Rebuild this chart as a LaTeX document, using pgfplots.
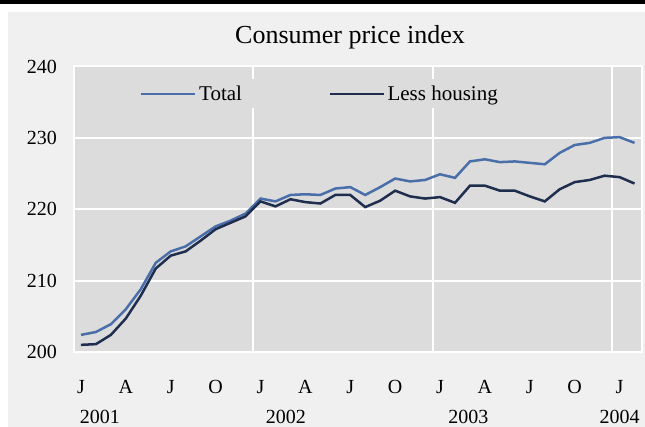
\documentclass[border=0pt]{standalone}
\usepackage{pgfplots}
\pgfplotsset{compat=1.18}
\usepackage{fontspec}
\setmainfont{Liberation Serif}
\definecolor{panelbg}{HTML}{F0F0F0}
\definecolor{plotbg}{HTML}{DCDCDC}
\definecolor{totalblue}{HTML}{4A6EA9}
\definecolor{lessdark}{HTML}{1F2E4E}
\begin{document}
\begin{tikzpicture}[x=1pt,y=1pt]
\useasboundingbox (0,0) rectangle (645,427);
\fill[white] (0,0) rectangle (645,427);
\fill[black] (0,423) rectangle (645,427);
\fill[panelbg] (8,0) rectangle (645,415);
\node[anchor=base, font=\fontsize{26}{30}\selectfont] at (350,383) {Consumer price index};
\begin{axis}[
    at={(73.5pt,75pt)}, anchor=south west,
    scale only axis, width=568.5pt, height=285.5pt,
    xmin=-0.5, xmax=37.5, ymin=200, ymax=240,
    axis background/.style={fill=plotbg},
    axis line style={white, line width=2pt},
    ytick={200,210,...,240},
    ymajorgrids,
    major grid style={white, line width=2pt},
    xtick={0,3,...,36},
    xticklabels={J,A,J,O,J,A,J,O,J,A,J,O,J},
    minor xtick={11.5,23.5,35.5},
    xminorgrids,
    minor grid style={white, line width=2pt},
    major tick length=0pt, minor tick length=0pt,
    extra x ticks={1.27,13.7,25.9,36.0},
    extra x tick labels={2001,2002,2003,2004},
    extra x tick style={xticklabel style={yshift=-30pt}},
    tick label style={font=\fontsize{20}{24}\selectfont},
    /pgf/number format/assume math mode=true,
    xticklabel style={anchor=base, inner sep=0pt, yshift=-42pt},
    yticklabel style={anchor=east, inner sep=0pt, xshift=-16.5pt},
    legend columns=2,
    legend image code/.code={\draw[#1] (0pt,0pt) -- (54pt,0pt);},
    legend style={at={(0.434,0.904)}, anchor=center, draw=none, fill=plotbg,
        font=\fontsize{21}{24}\selectfont, inner sep=4pt,
        nodes={inner sep=2.5pt},
        /tikz/every even column/.append style={column sep=84pt}},
]
\addplot[color=totalblue, line width=2.5pt] table {
x y
0 202.4
1 202.8
2 203.9
3 206.0
4 208.8
5 212.5
6 214.1
7 214.8
8 216.2
9 217.6
10 218.4
11 219.4
12 221.5
13 221.1
14 222.0
15 222.1
16 222.0
17 222.9
18 223.1
19 222.0
20 223.1
21 224.3
22 223.9
23 224.1
24 224.9
25 224.4
26 226.7
27 227.0
28 226.6
29 226.7
30 226.5
31 226.3
32 227.9
33 229.0
34 229.3
35 230.0
36 230.1
37 229.3
};
\addlegendentry{Total}
\addplot[color=lessdark, line width=2.5pt] table {
x y
0 201.0
1 201.1
2 202.4
3 204.7
4 207.9
5 211.7
6 213.5
7 214.1
8 215.6
9 217.2
10 218.1
11 219.0
12 221.1
13 220.4
14 221.4
15 221.0
16 220.8
17 222.0
18 222.0
19 220.3
20 221.2
21 222.6
22 221.8
23 221.5
24 221.7
25 220.9
26 223.3
27 223.3
28 222.6
29 222.6
30 221.8
31 221.1
32 222.8
33 223.8
34 224.1
35 224.7
36 224.5
37 223.6
};
\addlegendentry{Less housing}
\end{axis}
\end{tikzpicture}
\end{document}
